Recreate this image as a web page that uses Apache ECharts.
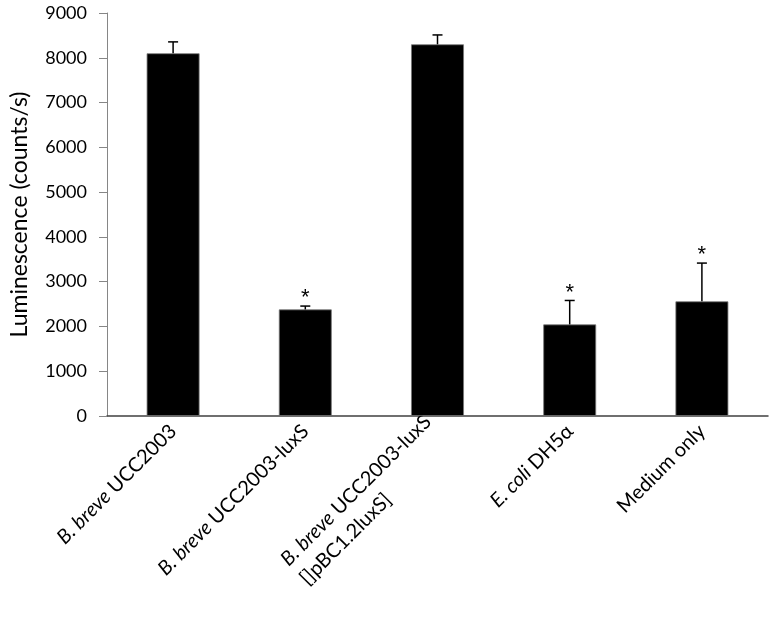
<!DOCTYPE html>
<html>
<head>
<meta charset="utf-8">
<script src="https://cdn.jsdelivr.net/npm/echarts@6/dist/echarts.min.js"></script>
<style>
html,body{margin:0;padding:0;background:#fff;}
#chart{width:774px;height:622px;}
</style>
</head>
<body>
<div id="chart"></div>
<script>
var categories = [
  '{i|B. breve} UCC2003',
  '{i|B. breve} UCC2003-luxS',
  '{i|B. breve} UCC2003-luxS\n{l|[]pBC1.2luxS]}',
  '{i|E. coli} DH5\u03b1',
  'Medium only'
];
var values = [8100, 2380, 8300, 2045, 2560];
var errors = [255, 75, 210, 535, 855];
var significant = [0, 1, 0, 1, 1];
var yTicks = { min: 0, max: 9000, interval: 1000 };

var FONT = 'Lato';
var errData = values.map(function (v, i) { return [i, v, errors[i], significant[i]]; });

var chart = echarts.init(document.getElementById('chart'));
chart.setOption({
  animation: false,
  backgroundColor: '#fff',
  grid: { left: 105, right: 6, top: 13, bottom: 206, containLabel: false },
  xAxis: {
    type: 'category',
    data: categories,
    axisLine: { lineStyle: { color: '#404040', width: 1.5 } },
    axisTick: { show: false },
    axisLabel: {
      interval: 0, rotate: 45, margin: 12,
      fontFamily: FONT, fontSize: 20, color: '#000', lineHeight: 27,
      rich: {
        i: { fontFamily: FONT, fontSize: 20, fontStyle: 'italic', color: '#000', lineHeight: 27 },
        l: { fontFamily: FONT, fontSize: 20, color: '#000', align: 'left', lineHeight: 27 }
      }
    }
  },
  yAxis: {
    type: 'value',
    min: yTicks.min, max: yTicks.max, interval: yTicks.interval,
    name: 'Luminescence (counts/s)',
    nameLocation: 'middle',
    nameGap: 76,
    nameTextStyle: { fontFamily: FONT, fontSize: 23, color: '#000' },
    axisLine: { show: true, lineStyle: { color: '#868686', width: 1 } },
    axisTick: { show: true, inside: false, length: 8, lineStyle: { color: '#868686' } },
    axisLabel: { fontFamily: FONT, fontSize: 18, color: '#000', margin: 20,
                 formatter: function (v) { return String(v); } },
    splitLine: { show: false }
  },
  series: [
    {
      type: 'bar',
      data: values,
      barWidth: '40%',
      itemStyle: { color: '#000', borderColor: '#777', borderWidth: 0.8 }
    },
    {
      type: 'custom',
      data: errData,
      encode: { x: 0, y: 1 },
      z: 5,
      renderItem: function (params, api) {
        var i = api.value(0);
        var v = api.value(1);
        var e = api.value(2);
        var s = api.value(3);
        var base = api.coord([i, v]);
        var top = api.coord([i, v + e]);
        var cap = 5;
        var children = [
          { type: 'line', shape: { x1: base[0], y1: base[1], x2: top[0], y2: top[1] },
            style: { stroke: '#000', lineWidth: 1.5 } },
          { type: 'line', shape: { x1: top[0] - cap, y1: top[1], x2: top[0] + cap, y2: top[1] },
            style: { stroke: '#000', lineWidth: 1.5 } }
        ];
        if (s) {
          children.push({
            type: 'text',
            style: { text: '*', x: top[0], y: top[1] - 8, align: 'center', verticalAlign: 'middle',
                     fontFamily: 'Liberation Sans', fontSize: 22, fill: '#000' }
          });
        }
        return { type: 'group', children: children };
      }
    }
  ]
});
</script>
</body>
</html>
